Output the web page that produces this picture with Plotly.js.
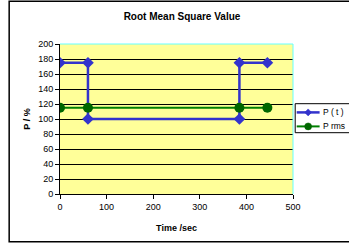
<!DOCTYPE html>
<html><head><meta charset="utf-8">
<script src="https://cdn.plot.ly/plotly-3.0.1.min.js"></script>
<style>html,body{margin:0;padding:0;background:#fff;}#chart{width:349px;height:244px;}</style>
</head><body><div id="chart"></div>
<script>
const ptTime = [0, 60, 60, 385, 385, 445];
const ptValue = [175, 175, 100, 100, 175, 175];
const rmsTime = [0, 60, 385, 445];
const rmsValue = [115, 115, 115, 115];
const xTicks = [0, 100, 200, 300, 400, 500];
const yTicks = [0, 20, 40, 60, 80, 100, 120, 140, 160, 180, 200];
const seriesNames = ['P ( t )', 'P rms'];
const blue = '#3333CC', green = '#008000', greenMk = '#006600';

const M = {l: 59.5, r: 55.7, t: 44.3, b: 49.7};
const W = 349, H = 244;
const pw = W - M.l - M.r, ph = H - M.t - M.b;
const px = v => (v - M.l) / pw;
const py = v => (H - M.b - v) / ph;

const traces = [
  {x: ptTime, y: ptValue, name: seriesNames[0], mode: 'lines+markers', type: 'scatter',
   line: {color: blue, width: 2.5}, marker: {symbol: 'diamond', size: 9, color: blue}},
  {x: rmsTime, y: rmsValue, name: seriesNames[1], mode: 'lines+markers', type: 'scatter',
   line: {color: green, width: 2}, marker: {symbol: 'circle', size: 10, color: greenMk}}
];

// custom compact legend (Excel style)
const lgY1 = 112.7, lgY2 = 126.7, lgX0 = 297, lgX1 = 320, lgMid = 308.5;
function diamondPath(cx, cy, r) {
  return 'M' + px(cx) + ',' + py(cy - r) + ' L' + px(cx + r) + ',' + py(cy) + ' L' + px(cx) + ',' + py(cy + r) + ' L' + px(cx - r) + ',' + py(cy) + ' Z';
}
const shapes = [
  {type: 'line', xref: 'paper', yref: 'paper', x0: 0, x1: 1, y0: 1, y1: 1, line: {color: '#66FFFF', width: 1}},
  {type: 'line', xref: 'paper', yref: 'paper', x0: 1, x1: 1, y0: 0, y1: 1, line: {color: '#66FFFF', width: 1}},
  {type: 'rect', xref: 'paper', yref: 'paper', x0: px(8.5), x1: px(360), y0: py(242), y1: py(1.5), line: {color: '#000', width: 1.5}, layer: 'below'},
  {type: 'rect', xref: 'paper', yref: 'paper', x0: px(295.5), x1: px(360), y0: py(133), y1: py(104), line: {color: '#000', width: 1}, fillcolor: '#fff'},
  {type: 'line', xref: 'paper', yref: 'paper', x0: px(lgX0), x1: px(lgX1), y0: py(lgY1), y1: py(lgY1), line: {color: blue, width: 2.5}},
  {type: 'path', xref: 'paper', yref: 'paper', path: diamondPath(lgMid, lgY1, 3.5), fillcolor: blue, line: {color: blue, width: 0.5}},
  {type: 'line', xref: 'paper', yref: 'paper', x0: px(lgX0), x1: px(lgX1), y0: py(lgY2), y1: py(lgY2), line: {color: green, width: 2}},
  {type: 'circle', xref: 'paper', yref: 'paper', x0: px(lgMid - 3.5), x1: px(lgMid + 3.5), y0: py(lgY2 + 3.5), y1: py(lgY2 - 3.5), fillcolor: greenMk, line: {color: greenMk, width: 0.5}}
];
const annotations = [
  {text: seriesNames[0], xref: 'paper', yref: 'paper', x: px(321), y: py(lgY1), xanchor: 'left', yanchor: 'middle', showarrow: false, font: {size: 8.5}},
  {text: seriesNames[1], xref: 'paper', yref: 'paper', x: px(321), y: py(lgY2), xanchor: 'left', yanchor: 'middle', showarrow: false, font: {size: 8.5}}
];

const layout = {
  width: W, height: H,
  margin: M,
  paper_bgcolor: '#fff', plot_bgcolor: '#FFFF99',
  font: {family: 'Liberation Sans, Arial, sans-serif', size: 9, color: '#000'},
  title: {text: '<b>Root Mean Square Value</b>', font: {size: 10}, x: 182 / W, xref: 'container', y: 1 - 16 / H, yref: 'container', yanchor: 'middle'},
  showlegend: false,
  xaxis: {range: [0, 500], tickvals: xTicks, ticktext: xTicks.map(String), ticks: 'outside', ticklen: 4,
          tickcolor: '#000', showline: true, linecolor: '#000', linewidth: 1, showgrid: false, zeroline: false,
          title: {text: '<b>Time /sec</b>', font: {size: 9}, standoff: 13}, fixedrange: true},
  yaxis: {range: [0, 200], tickvals: yTicks, ticktext: yTicks.map(String), ticks: 'outside', ticklen: 4,
          tickcolor: '#000', showline: true, linecolor: '#000', linewidth: 1, showgrid: true, gridcolor: '#000', gridwidth: 1,
          zeroline: false, title: {text: '<b>P / %</b>', font: {size: 9}, standoff: 6}, fixedrange: true},
  shapes: shapes,
  annotations: annotations
};
Plotly.newPlot('chart', traces, layout, {displayModeBar: false, staticPlot: true});
</script></body></html>
